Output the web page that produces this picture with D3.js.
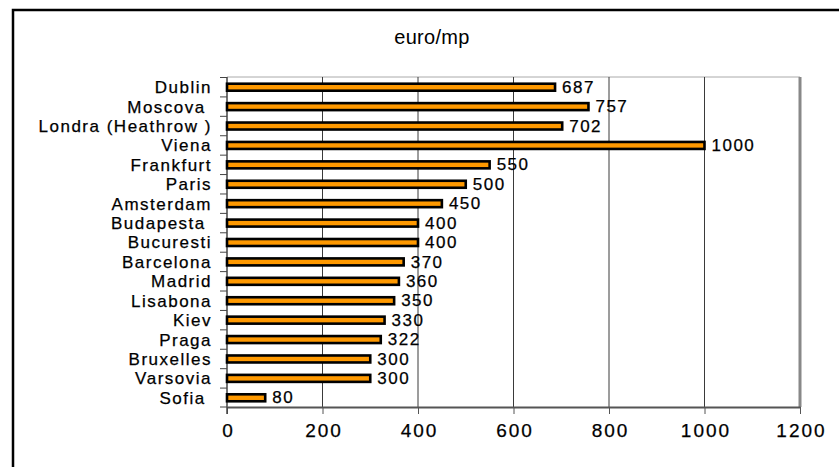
<!DOCTYPE html>
<html>
<head>
<meta charset="utf-8">
<script src="https://cdn.jsdelivr.net/npm/d3@7"></script>
<style>
  html, body { margin: 0; padding: 0; background: #fff; }
  svg { display: block; }
  text { font-family: "Liberation Sans", Arial, sans-serif; white-space: pre; }
</style>
</head>
<body>
<svg id="chart" width="839" height="467"></svg>
<script>
const title = "euro/mp";
const categories = ["Dublin", "Moscova ", "Londra (Heathrow )", "Viena", "Frankfurt", "Paris", "Amsterdam", "Budapesta ", "Bucuresti", "Barcelona", "Madrid", "Lisabona", "Kiev", "Praga", "Bruxelles", "Varsovia", "Sofia "];
const values = [687, 757, 702, 1000, 550, 500, 450, 400, 400, 370, 360, 350, 330, 322, 300, 300, 80];
const xTicks = [0, 200, 400, 600, 800, 1000, 1200];

const svg = d3.select("#chart");

// outer frame
svg.append("rect")
  .attr("x", 13).attr("y", 10).attr("width", 900).attr("height", 500)
  .attr("fill", "none").attr("stroke", "#000").attr("stroke-width", 2.5);

svg.append("text")
  .attr("x", 432).attr("y", 44)
  .attr("text-anchor", "middle")
  .attr("font-size", 20)
  .attr("letter-spacing", 0.3)
  .attr("fill", "#000")
  .text(title);

const x = d3.scaleLinear().domain([0, 1200]).range([227, 800]);
const y = d3.scaleBand().domain(categories).range([77.5, 407.5]).paddingInner(0.64).paddingOuter(0.32);
const plotTop = 77, plotBottom = 407;

// top border of plot
svg.append("line").attr("x1", x(0)).attr("x2", x(1200)).attr("y1", plotTop).attr("y2", plotTop)
  .attr("stroke", "#aaa").attr("stroke-width", 1);

// gridlines
svg.append("g").selectAll("line").data(xTicks.filter(t => t > 0 && t < 1200)).join("line")
  .attr("x1", d => x(d)).attr("x2", d => x(d))
  .attr("y1", plotTop).attr("y2", plotBottom)
  .attr("stroke", "#3a3a3a").attr("stroke-width", 1);

// right border
svg.append("line").attr("x1", x(1200)).attr("x2", x(1200)).attr("y1", plotTop).attr("y2", plotBottom)
  .attr("stroke", "#888").attr("stroke-width", 3);

// x axis
const xAxis = svg.append("g").attr("transform", `translate(0,${plotBottom})`)
  .call(d3.axisBottom(x).tickValues(xTicks).tickFormat(d3.format("d")).tickSize(7).tickPadding(10).tickSizeOuter(0));
xAxis.select(".domain").attr("stroke", "#555").attr("stroke-width", 2);
xAxis.selectAll(".tick line").attr("stroke", "#555");
xAxis.selectAll(".tick text")
  .attr("font-family", "Liberation Sans, Arial, sans-serif")
  .attr("font-size", 19).attr("letter-spacing", 2).attr("fill", "#000")
  .attr("stroke", "#000").attr("stroke-width", 0.25)
  .attr("dx", 1);

// y axis ticks at band boundaries
const boundaries = categories.map(c => y(c) - y.step() * y.paddingInner() / 2).concat([plotBottom]);
svg.append("g").selectAll("line").data(boundaries).join("line")
  .attr("x1", x(0) - 7).attr("x2", x(0))
  .attr("y1", d => d).attr("y2", d => d)
  .attr("stroke", "#444").attr("stroke-width", 1);
svg.append("line").attr("x1", x(0)).attr("x2", x(0)).attr("y1", plotTop).attr("y2", plotBottom + 7)
  .attr("stroke", "#444").attr("stroke-width", 1.5);

// category labels
svg.append("g").selectAll("text").data(categories).join("text")
  .attr("x", 212)
  .attr("y", d => y(d) + y.bandwidth() / 2)
  .attr("dy", "0.35em")
  .attr("text-anchor", "end")
  .attr("font-size", 17)
  .attr("letter-spacing", 1.5)
  .attr("fill", "#000")
  .attr("stroke", "#000").attr("stroke-width", 0.25)
  .text(d => d);

// bars
svg.append("g").selectAll("rect").data(values).join("rect")
  .attr("x", x(0))
  .attr("y", (d, i) => y(categories[i]))
  .attr("width", d => x(d) - x(0))
  .attr("height", y.bandwidth())
  .attr("fill", "#ff9900")
  .attr("stroke", "#000")
  .attr("stroke-width", 2.6);

// value labels
svg.append("g").selectAll("text").data(values).join("text")
  .attr("x", d => x(d) + 7)
  .attr("y", (d, i) => y(categories[i]) + y.bandwidth() / 2)
  .attr("dy", "0.33em")
  .attr("font-size", 17)
  .attr("letter-spacing", 1.5)
  .attr("fill", "#000")
  .attr("stroke", "#000").attr("stroke-width", 0.25)
  .text(d => d);
</script>
</body>
</html>
